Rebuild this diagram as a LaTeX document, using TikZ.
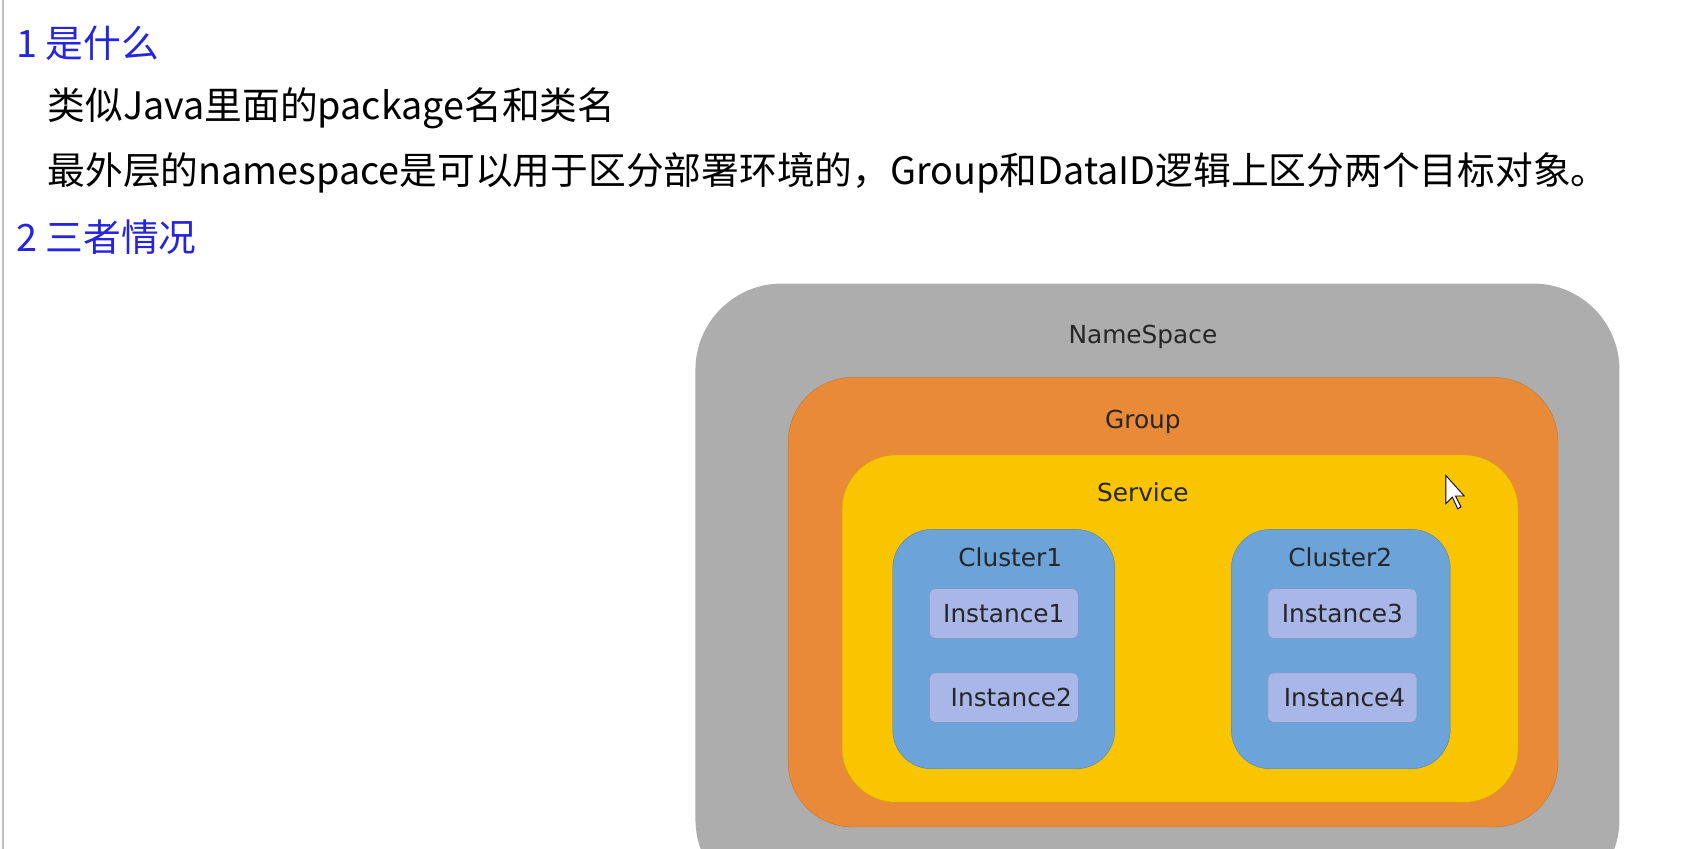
\documentclass[tikz,border=0pt]{standalone}
\usepackage{fontspec}
\setmainfont{Noto Sans CJK SC}
\newfontfamily\djsans{DejaVu Sans}
\begin{document}
\begin{tikzpicture}[x=1pt,y=-1pt,
 lab/.style={font=\djsans\fontsize{23}{23}\selectfont,text=black!85},
 box/.style={rounded corners=#1},
 inst/.style={fill=inst,draw=inst!80!black,rounded corners=5,minimum width=138,minimum height=46,inner sep=0pt}]
\definecolor{ns}{HTML}{ADADAD}\definecolor{grp}{HTML}{E98A38}\definecolor{svc}{HTML}{F9C500}
\definecolor{cl}{HTML}{6CA4DA}\definecolor{inst}{HTML}{A8B6E8}\definecolor{hd}{HTML}{2525E0}
\useasboundingbox (0,0) rectangle (1560,787);
\fill[white] (0,0) rectangle (1560,787);
\draw[black!25,line width=2] (3,0) -- (3,787);
\node[anchor=west,text=hd,font=\fontsize{35}{35}\selectfont,inner sep=0pt] (h1) at (15,40) {1 是什么};
\node[anchor=west,font=\fontsize{35}{35}\selectfont,inner sep=0pt] (t1) at (44,100) {类似Java里面的package名和类名};
\node[anchor=west,font=\fontsize{35}{35}\selectfont,inner sep=0pt] (t2) at (44,160) {最外层的namespace是可以用于区分部署环境的，Group和DataID逻辑上区分两个目标对象。};
\node[anchor=west,text=hd,font=\fontsize{35}{35}\selectfont,inner sep=0pt] (h2) at (15,220) {2 三者情况};
\begin{scope}
\clip (0,0) rectangle (1560,787);
\fill[ns,box=80] (645,263) rectangle (1502,840);
\end{scope}
\filldraw[fill=grp,draw=grp!85!black,box=60] (731,350) rectangle (1445,767);
\filldraw[fill=svc,draw=svc!85!black,box=50] (781,422) rectangle (1408,744);
\filldraw[fill=cl,draw=cl!80!black,box=36] (828,491) rectangle (1034,713);
\filldraw[fill=cl,draw=cl!80!black,box=36] (1142,491) rectangle (1345,713);
\node[lab] (nsl) at (1060,312) {NameSpace};
\node[lab] (gl) at (1060,391) {Group};
\node[lab] (sl) at (1060,457) {Service};
\node[lab] (c1) at (937,517) {Cluster1};
\node[lab] (c2) at (1243,517) {Cluster2};
\node[inst,lab] (i1) at (931,569) {Instance1\hspace{8pt}};
\node[inst,lab] (i2) at (931,647) {\hspace{14pt}Instance2};
\node[inst,lab] (i3) at (1245,569) {Instance3\hspace{8pt}};
\node[inst,lab] (i4) at (1245,647) {\hspace{4pt}Instance4};
\filldraw[fill=white,draw=black,line width=0.8] (1341,441) -- (1341,467) -- (1347,461) -- (1352,472) -- (1355,470) -- (1350,460) -- (1358,460) -- cycle;
\end{tikzpicture}
\end{document}
